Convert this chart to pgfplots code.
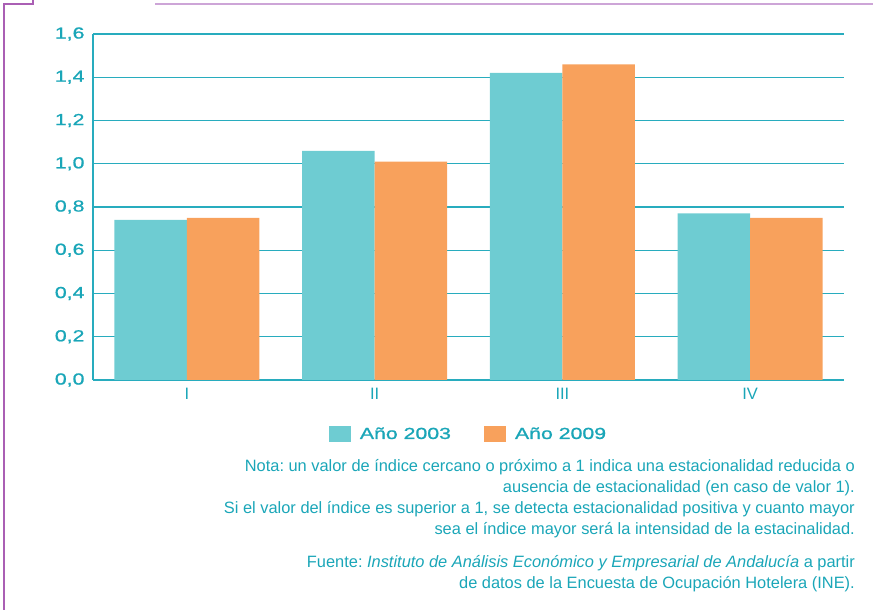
\documentclass[border=0pt]{standalone}
\usepackage{fontspec}
\setmainfont{Liberation Sans}
\newfontfamily\tickfont[FakeStretch=1.33,FakeBold=1]{Liberation Sans}
\newfontfamily\notefont{Liberation Sans}
\usepackage{pgfplots}
\pgfplotsset{compat=1.18}
\frenchspacing

\definecolor{tealtxt}{RGB}{26,166,184}
\definecolor{gridteal}{RGB}{40,172,190}
\definecolor{barteal}{RGB}{110,204,210}
\definecolor{barorange}{RGB}{248,161,92}
\definecolor{purpdark}{RGB}{170,95,180}
\definecolor{purplight}{RGB}{205,165,215}

\begin{document}
\begin{tikzpicture}[x=1pt,y=1pt]
  \useasboundingbox (0,0) rectangle (873,610);
  % page frame decoration
  \draw[purpdark, line width=1.2pt] (4,0) -- (4,606) -- (33,606) -- (33,610);
  \draw[purplight, line width=1.5pt] (155,606) -- (873,606);

  \begin{axis}[
      at={(93pt,230pt)}, anchor=south west,
      scale only axis,
      width=751pt, height=346pt,
      ybar=0pt, bar width=72.5pt,
      xmin=-0.5, xmax=3.5,
      ymin=0, ymax=1.6,
      ytick={0,0.2,...,1.6},
      xtick={0,1,2,3},
      xticklabels={I,II,III,IV},
      axis x line*=bottom, axis y line*=left,
      axis line style={gridteal, line width=1.2pt},
      ymajorgrids, grid style={gridteal, line width=1.2pt},
      major tick length=0pt,
      y tick label style={font=\tickfont\fontsize{16}{18}\selectfont, text=tealtxt, xshift=-5pt},
      x tick label style={font=\fontsize{16.5}{18}\selectfont, text=tealtxt, yshift=-5pt},
      /pgf/number format/.cd, use comma, fixed, fixed zerofill, precision=1, assume math mode=true,
      /pgfplots/.cd,
      legend columns=2,
      legend style={at={(0.5,-0.156)}, anchor=center, draw=none,
        font=\tickfont\fontsize{16}{18}\selectfont, text=tealtxt,
        /tikz/every odd column/.append style={column sep=7pt},
        /tikz/every even column/.append style={column sep=31pt}},
      legend image code/.code={\fill[#1] (0pt,-7.7pt) rectangle (22pt,7.7pt);},
    ]
    \addplot[fill=barteal, draw=none] coordinates {(0,0.74) (1,1.06) (2,1.42) (3,0.77)};
    \addplot[fill=barorange, draw=none] coordinates {(0,0.75) (1,1.01) (2,1.46) (3,0.75)};
    \legend{Año 2003, Año 2009}
  \end{axis}

  \begin{scope}[every node/.style={anchor=base east, inner sep=0pt, text=tealtxt,
      font=\notefont\fontsize{16.4}{19}\selectfont}]
    \node at (855,610-471.5) {Nota: un valor de índice cercano o próximo a 1 indica una estacionalidad reducida o};
    \node at (855,610-492.5) {ausencia de estacionalidad (en caso de valor 1).};
    \node at (855,610-513.5) {Si el valor del índice es superior a 1, se detecta estacionalidad positiva y cuanto mayor};
    \node at (855,610-534.5) {sea el índice mayor será la intensidad de la estacinalidad.};
    \node at (855,610-567.5) {Fuente: \textit{Instituto de Análisis Económico y Empresarial de Andalucía} a partir};
    \node at (855,610-588.5) {de datos de la Encuesta de Ocupación Hotelera (INE).};
  \end{scope}
\end{tikzpicture}
\end{document}
